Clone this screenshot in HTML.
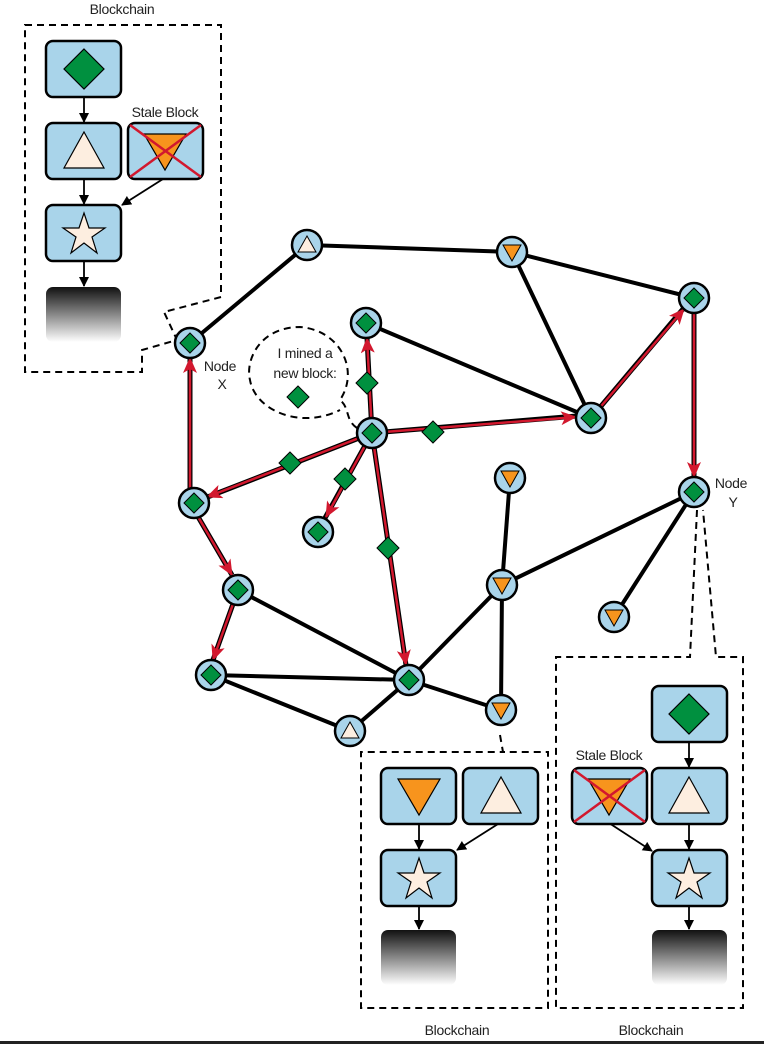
<!DOCTYPE html>
<html><head><meta charset="utf-8"><style>
html,body{margin:0;padding:0;background:#fff;}
svg{display:block;}
text{font-family:"Liberation Sans",sans-serif;font-size:14px;fill:#222;letter-spacing:-0.3px;}
</style></head><body>
<svg width="764" height="1044" viewBox="0 0 764 1044" xmlns="http://www.w3.org/2000/svg">
<defs>
<linearGradient id="bg" x1="0" y1="0" x2="0" y2="1"><stop offset="0" stop-color="#111"/><stop offset="1" stop-color="#fff"/></linearGradient>
<marker id="ar" markerWidth="10" markerHeight="10" refX="9" refY="5" orient="auto" markerUnits="userSpaceOnUse"><path d="M0,0 L10,5 L0,10 z" fill="#000"/></marker>
<marker id="rr" markerWidth="16" markerHeight="14" refX="15" refY="7" orient="auto" markerUnits="userSpaceOnUse"><path d="M0,0 L16,7 L0,14 L4,7 z" fill="#d2182e"/></marker>
<g id="blk"><rect x="0" y="0" width="75" height="56" rx="7" fill="#a9d4ea" stroke="#000" stroke-width="2.5"/></g>
<g id="dia"><path d="M0,-20 L20,0 L0,20 L-20,0 z" fill="#00903f" stroke="#000" stroke-width="1.2"/></g>
<g id="tri"><path d="M0,-19 L20,17 L-20,17 z" fill="#fdeee0" stroke="#000" stroke-width="1.2"/></g>
<g id="otri"><path d="M-21,-17 L21,-17 L0,19 z" fill="#f7941d" stroke="#000" stroke-width="1.2"/></g>
<g id="star"><path d="M0,-21 L5,-6 L21,-6 L8,3 L13,19 L0,9 L-13,19 L-8,3 L-21,-6 L-5,-6 z" fill="#fdeee0" stroke="#000" stroke-width="1.2"/></g>
<g id="cross"><path d="M2,2 L73,54 M73,2 L2,54" stroke="#d2182e" stroke-width="2.5"/></g>
<g id="nd"><circle r="15" fill="#a9d4ea" stroke="#000" stroke-width="2.5"/><path d="M0,-10 L10,0 L0,10 L-10,0 z" fill="#00903f" stroke="#000" stroke-width="1"/></g>
<g id="nt"><circle r="15" fill="#a9d4ea" stroke="#000" stroke-width="2.5"/><path d="M0,-9 L9,7 L-9,7 z" fill="#fdeee0" stroke="#000" stroke-width="1"/></g>
<g id="no"><circle r="15" fill="#a9d4ea" stroke="#000" stroke-width="2.5"/><path d="M-9,-7 L9,-7 L0,9 z" fill="#f7941d" stroke="#000" stroke-width="1"/></g>
<g id="sd"><path d="M0,-11 L11,0 L0,11 L-11,0 z" fill="#00903f" stroke="#000" stroke-width="1"/></g>
</defs>

<g fill="none" stroke="#000" stroke-width="2" stroke-dasharray="7,5">
<path d="M25,25 L221,25 L221,297 L164,312 L177,340 L142,350 L142,372 L25,372 z"/>
<path d="M500,735 L503,752 L548,752 L548,1008 L361,1008 L361,752 L505,752"/>
<path d="M697,510 L690,657 L556,657 L556,1008 L743,1008 L743,657 L716,657 L703,510"/>
<path d="M357,428 C345,420 350,408 340,400 C360,370 340,330 300,327 C260,327 245,360 250,380 C255,410 300,430 340,410"/>
</g>

<g stroke="#000" stroke-width="4" fill="none">
<path d="M307,245 L190,343 M307,245 L512,252 L694,298 M512,252 L591,418 M366,323 L591,418 M694,492 L502,585 M694,492 L614,617 M510,478 L502,585 M502,585 L409,680 M502,585 L501,710 M238,590 L409,680 M211,675 L409,680 M409,680 L350,731 M409,680 L501,710 M211,675 L350,731"/>
</g>
<g stroke="#000" stroke-width="5" fill="none">
<path d="M190,503 L190,358 M190,503 L232,575 M238,590 L213,660 M372,433 L205,498 M372,433 L325,518 M372,433 L367,338 M372,433 L577,416 M372,433 L406,665 M591,418 L683,309 M694,298 L694,477"/>
</g>
<g stroke="#d2182e" stroke-width="2.5" fill="none">
<path d="M190,503 L190,358" marker-end="url(#rr)"/>
<path d="M190,503 L232,575" marker-end="url(#rr)"/>
<path d="M238,590 L213,660" marker-end="url(#rr)"/>
<path d="M372,433 L207,497" marker-end="url(#rr)"/>
<path d="M372,433 L326,517" marker-end="url(#rr)"/>
<path d="M372,433 L367,338" marker-end="url(#rr)"/>
<path d="M372,433 L576,417" marker-end="url(#rr)"/>
<path d="M372,433 L406,665" marker-end="url(#rr)"/>
<path d="M591,418 L684,309" marker-end="url(#rr)"/>
<path d="M694,298 L694,477" marker-end="url(#rr)"/>
</g>

<use href="#nt" x="307" y="245"/>
<use href="#no" x="512" y="252"/>
<use href="#nd" x="694" y="298"/>
<use href="#nd" x="190" y="343"/>
<use href="#nd" x="366" y="323"/>
<use href="#nd" x="372" y="433"/>
<use href="#nd" x="591" y="418"/>
<use href="#no" x="510" y="478"/>
<use href="#nd" x="694" y="492"/>
<use href="#nd" x="194" y="503"/>
<use href="#nd" x="318" y="532"/>
<use href="#nd" x="238" y="590"/>
<use href="#no" x="502" y="585"/>
<use href="#no" x="614" y="617"/>
<use href="#nd" x="211" y="675"/>
<use href="#nd" x="409" y="680"/>
<use href="#nt" x="350" y="731"/>
<use href="#no" x="501" y="710"/>

<use href="#sd" x="367" y="383"/>
<use href="#sd" x="433" y="432"/>
<use href="#sd" x="290" y="463"/>
<use href="#sd" x="345" y="479"/>
<use href="#sd" x="388" y="548"/>
<use href="#sd" x="298" y="397"/>

<text x="305" y="358" text-anchor="middle">I mined a</text>
<text x="305" y="378" text-anchor="middle">new block:</text>
<text x="220" y="371" text-anchor="middle">Node</text>
<text x="222" y="389" text-anchor="middle">X</text>
<text x="731" y="488" text-anchor="middle">Node</text>
<text x="733" y="507" text-anchor="middle">Y</text>

<text x="122" y="14" text-anchor="middle">Blockchain</text>
<text x="165" y="117" text-anchor="middle">Stale Block</text>
<g stroke="#000" stroke-width="1.8" fill="none">
<path d="M84,97 L84,122" marker-end="url(#ar)"/>
<path d="M84,179 L84,204" marker-end="url(#ar)"/>
<path d="M163,179 L122,205" marker-end="url(#ar)"/>
<path d="M84,262 L84,286" marker-end="url(#ar)"/>
<path d="M419,824 L419,849" marker-end="url(#ar)"/>
<path d="M498,824 L457,850" marker-end="url(#ar)"/>
<path d="M419,906 L419,929" marker-end="url(#ar)"/>
<path d="M689,743 L689,767" marker-end="url(#ar)"/>
<path d="M609,823 L652,851" marker-end="url(#ar)"/>
<path d="M689,823 L689,849" marker-end="url(#ar)"/>
<path d="M689,906 L689,929" marker-end="url(#ar)"/>
</g>
<use href="#blk" x="46" y="41"/><use href="#dia" x="84" y="69"/>
<use href="#blk" x="46" y="123"/><use href="#tri" x="84" y="151"/>
<use href="#blk" x="128" y="123"/><use href="#otri" x="165" y="151"/><use href="#cross" x="128" y="123"/>
<use href="#blk" x="46" y="205"/><use href="#star" x="84" y="234"/>
<rect x="46" y="287" width="75" height="55" rx="7" fill="url(#bg)"/>

<use href="#blk" x="381" y="768"/><use href="#otri" x="419" y="796"/>
<use href="#blk" x="463" y="768"/><use href="#tri" x="501" y="796"/>
<use href="#blk" x="381" y="850"/><use href="#star" x="419" y="879"/>
<rect x="381" y="930" width="75" height="55" rx="7" fill="url(#bg)"/>
<text x="457" y="1035" text-anchor="middle">Blockchain</text>

<text x="609" y="760" text-anchor="middle">Stale Block</text>
<use href="#blk" x="652" y="686"/><use href="#dia" x="689" y="714"/>
<use href="#blk" x="572" y="768"/><use href="#otri" x="609" y="796"/><use href="#cross" x="572" y="768"/>
<use href="#blk" x="652" y="768"/><use href="#tri" x="689" y="796"/>
<use href="#blk" x="652" y="850"/><use href="#star" x="689" y="879"/>
<rect x="652" y="930" width="75" height="55" rx="7" fill="url(#bg)"/>
<text x="651" y="1035" text-anchor="middle">Blockchain</text>

<rect x="0" y="1041" width="764" height="3" fill="#222"/>
</svg>
</body></html>
